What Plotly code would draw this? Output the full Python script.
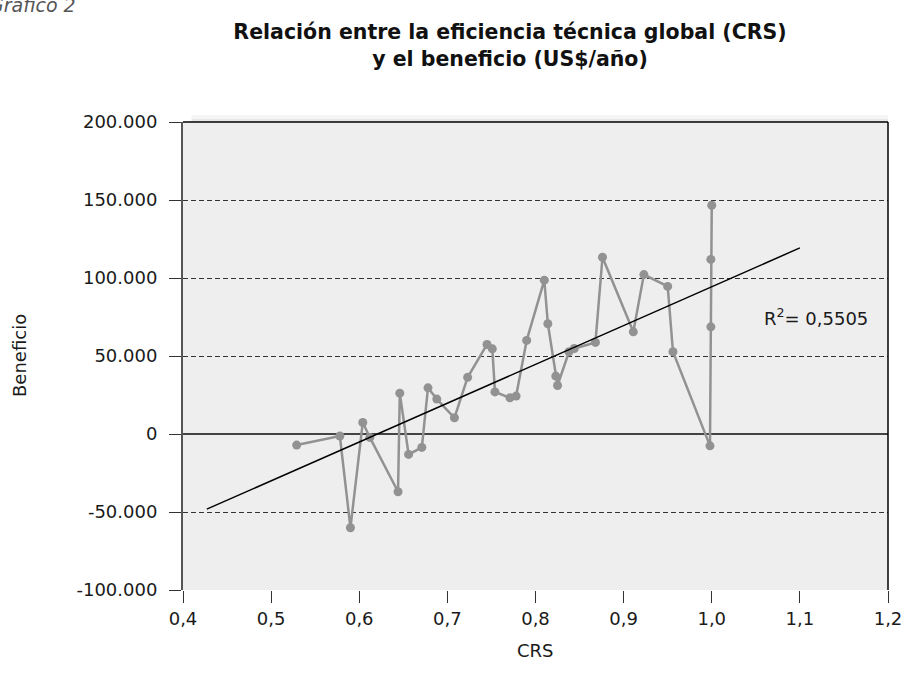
import numpy as np
import plotly.graph_objects as go

# ---- data ----
crs = [0.529, 0.578, 0.590, 0.604, 0.612, 0.644, 0.646, 0.656, 0.671, 0.678,
       0.688, 0.708, 0.723, 0.745, 0.751, 0.754, 0.771, 0.778, 0.790, 0.810,
       0.814, 0.823, 0.825, 0.838, 0.844, 0.868, 0.876, 0.911, 0.923, 0.950,
       0.956, 0.998, 0.999, 0.999, 1.000]
beneficio = [-7100, -1300, -60100, 7400, -2200, -37000, 26200, -13100, -8600, 29600,
             22400, 10400, 36300, 57400, 54600, 27000, 23200, 24300, 60000, 98600,
             70700, 37100, 31100, 52700, 54800, 58700, 113300, 65500, 102200, 94600,
             52700, -7600, 68700, 111900, 146600]
trend_x_range = [0.427, 1.1]
r2_text = "R<sup>2</sup>= 0,5505"

x_tickvals = [0.4, 0.5, 0.6, 0.7, 0.8, 0.9, 1.0, 1.1, 1.2]
x_ticktext = ["0,4", "0,5", "0,6", "0,7", "0,8", "0,9", "1,0", "1,1", "1,2"]
y_tickvals = [-100000, -50000, 0, 50000, 100000, 150000, 200000]
y_ticktext = ["-100.000", "-50.000", "0", "50.000", "100.000", "150.000", "200.000"]
y_range = [-100000, 200000]
x_range = [0.4, 1.2]

# linear trend computed from the data
slope, intercept = np.polyfit(crs, beneficio, 1)
tx = np.array(trend_x_range)
ty = slope * tx + intercept

FONT = "DejaVu Sans, Verdana, sans-serif"
GREY = "#929292"
TXT = "#1a1a1a"
PH = 468.0  # plot height in px (for paper-coordinate text placement)
PW = 705.0

fig = go.Figure()
fig.add_trace(go.Scatter(
    x=crs, y=beneficio, mode="lines+markers",
    line=dict(color=GREY, width=2.5),
    marker=dict(color=GREY, size=9),
    showlegend=False, hoverinfo="skip"))
fig.add_trace(go.Scatter(
    x=tx, y=ty, mode="lines",
    line=dict(color="black", width=1.5),
    showlegend=False, hoverinfo="skip"))

fig.update_layout(
    width=902, height=683,
    margin=dict(l=183, r=14, t=122, b=93),
    paper_bgcolor="white", plot_bgcolor="#eeeeee",
    font=dict(family=FONT, size=18, color=TXT),
    title=dict(text="<b>Relación entre la eficiencia técnica global (CRS)<br>y el beneficio (US$/año)</b>",
               x=510 / 902, xanchor="center", y=1 - 39 / 683, yanchor="middle",
               font=dict(family=FONT, size=20.5, color="#111")),
    xaxis=dict(range=x_range, tickvals=x_tickvals, ticktext=x_ticktext,
               showgrid=False, zeroline=False, showline=False,
               ticks="outside", ticklen=12, tickcolor="#333", tickwidth=1,
               ticklabeloverflow="allow", automargin=False,
               tickfont=dict(family=FONT, size=18, color=TXT)),
    yaxis=dict(range=y_range, tickvals=y_tickvals, ticktext=y_ticktext,
               showgrid=True, gridcolor="#333", gridwidth=1, griddash="5px,3px",
               zeroline=True, zerolinecolor="#444", zerolinewidth=1.5,
               showline=True, linecolor="#555", linewidth=2,
               ticks="outside", ticklen=12, tickcolor="#333", tickwidth=1,
               ticklabelstandoff=8, automargin=False,
               tickfont=dict(family=FONT, size=18, color=TXT)),
    # overlay axis only to draw the short inner part of the crossing y ticks
    yaxis2=dict(range=y_range, matches="y", overlaying="y", side="left",
                tickvals=y_tickvals, showticklabels=False, automargin=False,
                showgrid=False, zeroline=False, showline=False,
                ticks="inside", ticklen=7, tickcolor="#333", tickwidth=1),
    shapes=[
        # soft shadow above the plot frame
        dict(type="rect", xref="paper", yref="paper", x0=0.012, x1=1, y0=1, y1=1 + 7 / PH,
             fillcolor="rgba(0,0,0,0.04)", line=dict(width=0), layer="below"),
        dict(type="rect", xref="paper", yref="paper", x0=0.012, x1=1, y0=1, y1=1 + 3 / PH,
             fillcolor="rgba(0,0,0,0.05)", line=dict(width=0), layer="below"),
        dict(type="line", xref="paper", yref="paper", x0=0, x1=1, y0=1, y1=1,
             line=dict(color="black", width=1.5)),
        dict(type="line", xref="paper", yref="paper", x0=1, x1=1, y0=0, y1=1,
             line=dict(color="black", width=1.5)),
    ],
    annotations=[
        dict(text="Beneficio", xref="paper", yref="paper", x=(19 - 183) / PW, y=0.5,
             textangle=-90, showarrow=False, xanchor="center", yanchor="middle",
             font=dict(family=FONT, size=18, color=TXT)),
        dict(text="CRS", xref="paper", yref="paper", x=0.5, y=(590 - 650) / PH,
             showarrow=False, xanchor="center", yanchor="middle",
             font=dict(family=FONT, size=18, color=TXT)),
        dict(text=r2_text, xref="paper", yref="paper", x=(816 - 183) / PW, y=(590 - 317) / PH,
             showarrow=False, xanchor="center", yanchor="middle",
             font=dict(family=FONT, size=18, color=TXT)),
        dict(text="<i>Gráfico 2</i>", xref="paper", yref="paper", x=(-13 - 183) / PW,
             y=(590 - 5) / PH, showarrow=False, xanchor="left", yanchor="middle",
             font=dict(family=FONT, size=19, color="#555")),
    ],
)

fig.write_html("out.html", config={"displayModeBar": False},
               post_script="document.body.style.margin='0';document.body.style.overflow='hidden';")
